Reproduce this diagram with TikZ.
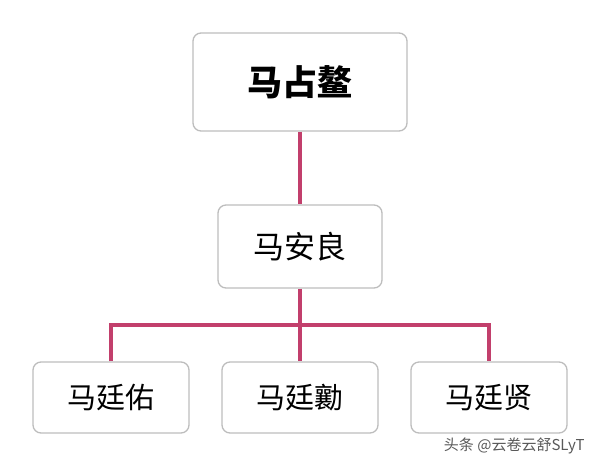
\documentclass[tikz,border=0pt]{standalone}
\usepackage{fontspec}
\usepackage{xcolor}
\usepackage{tikz}
\usetikzlibrary{calc, positioning}
\newfontfamily\cjk{Noto Sans CJK SC}
\definecolor{linkred}{HTML}{C23F6C}
\definecolor{boxgray}{HTML}{BDBDBD}

\begin{document}
\begin{tikzpicture}[x=1pt, y=-1pt,
    person/.style={draw=boxgray, line width=1.3pt, rounded corners=8pt, fill=white,
        inner sep=0pt, font=\cjk, text=black},
    link/.style={draw=linkred, line width=3.2pt, line join=miter}]

\useasboundingbox (0,0) rectangle (600,467);

% Generations
\node[person, minimum width=214pt, minimum height=98pt, font=\cjk\bfseries\fontsize{35}{40}\selectfont] (zhanao) at (300,82) {马占鳌};
\node[person, minimum width=164pt, minimum height=83pt, font=\cjk\fontsize{31}{36}\selectfont] (anliang) at (300,246.5) {马安良};
\node[person, minimum width=156pt, minimum height=71pt, font=\cjk\fontsize{29}{34}\selectfont] (tingyou) at (111,397.5) {马廷佑};
\node[person, minimum width=156pt, minimum height=71pt, font=\cjk\fontsize{29}{34}\selectfont] (tingqin) at (300,397.5) {马廷勷};
\node[person, minimum width=156pt, minimum height=71pt, font=\cjk\fontsize{29}{34}\selectfont] (tingxian) at (489,397.5) {马廷贤};

% Branches
\coordinate (fork) at (300,325);
\draw[link] (zhanao.south) -- (anliang.north);
\draw[link] (anliang.south) -- (fork);
\draw[link] (tingyou.north) |- (fork) -| (tingxian.north);
\draw[link] (fork) -- (tingqin.north);

% Watermark
\node[font=\cjk\fontsize{15}{17}\selectfont, text=black!65, anchor=east] (mark) at (588,446) {头条 @云卷云舒SLyT};

\end{tikzpicture}
\end{document}
